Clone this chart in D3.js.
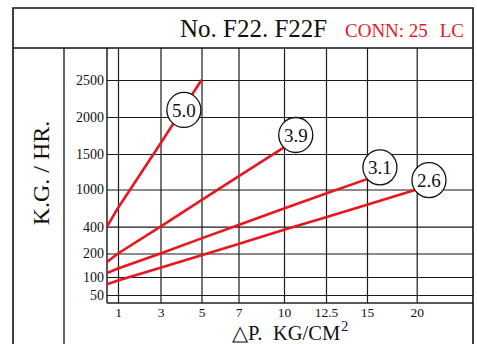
<!DOCTYPE html>
<html><head><meta charset="utf-8">
<script src="https://cdn.jsdelivr.net/npm/d3@7"></script>
<style>body{margin:0;background:#fff} svg{display:block}</style>
</head><body>
<svg id="c" width="477" height="344"></svg>
<script>
// ---- data ----
const title = "No. F22. F22F";
const connText = "CONN: 25";
const connSuffix = "LC";
const yLabel = "K.G. / HR.";
const xLabelA = "\u25B3P.";
const xLabelB = "KG/CM";
const xLabelSup = "2";
const xTicks = [1, 3, 5, 7, 10, 12.5, 15, 20];
const yTicks = [50, 100, 200, 400, 1000, 1500, 2000, 2500];
const seriesNames = ["5.0", "3.9", "3.1", "2.6"];
const dp50 = [0.5, 1, 3, 5];
const kg50 = [400, 703, 1642, 2500];
const dp39 = [0.5, 1, 3, 5, 7, 10];
const kg39 = [164, 200, 400, 828, 1184, 1590];
const dp31 = [0.5, 1, 3, 5, 7, 10, 12.5, 15];
const kg31 = [117, 136, 200, 313, 427, 695, 937, 1146];
const dp26 = [0.5, 1, 3, 5, 7, 10, 12.5, 15, 20];
const kg26 = [80, 90, 139, 193, 271, 377, 554, 755, 1000];
const labelDp = [4.14, 10.7, 16.3, 21.2];
const labelKg = [2095, 1757, 1312, 1132];

// ---- layout ----
const svg = d3.select("#c");
const serif = "'Liberation Serif','Times New Roman',serif";
const red = "#e8161e";
const frame = {l: 13, t: 8, r: 473, b: 344};
const titleBottom = 48, labelCol = 64, plotL = 107, plotB = 303;

const x = d3.scaleLinear()
  .domain([0.5, ...xTicks, 25.5])
  .range([plotL, 118, 160.5, 201.5, 238.5, 284, 326, 367, 416.7, frame.r]);
const y = d3.scaleLinear()
  .domain([28, ...yTicks, 2930])
  .range([plotB, 295, 277, 253.5, 226.7, 189.5, 154, 117, 80, titleBottom]);

// grid
const gx = svg.append("g").attr("transform", `translate(0,${plotB})`)
  .call(d3.axisBottom(x).tickValues(xTicks).tickSize(-(plotB - titleBottom)).tickFormat(d => d).tickPadding(4));
gx.select(".domain").remove();
gx.attr("font-family", serif);
gx.selectAll(".tick line").attr("stroke", "#1a1a1a").attr("stroke-width", 1.2);
gx.selectAll(".tick text").attr("font-family", serif).attr("font-size", 13.5).attr("fill", "#111").attr("dy", "0.72em");

const gy = svg.append("g").attr("transform", `translate(${plotL},0)`)
  .call(d3.axisLeft(y).tickValues(yTicks).tickSize(-(frame.r - plotL)).tickFormat(d => d).tickPadding(3));
gy.select(".domain").remove();
gy.attr("font-family", serif);
gy.selectAll(".tick line").attr("stroke", "#1a1a1a").attr("stroke-width", 1.2);
gy.selectAll(".tick text").attr("font-family", serif).attr("font-size", 14).attr("fill", "#111");

// axes lines
svg.append("line").attr("x1", plotL).attr("x2", plotL).attr("y1", titleBottom).attr("y2", plotB)
  .attr("stroke", "#222").attr("stroke-width", 1.5);
svg.append("line").attr("x1", plotL).attr("x2", frame.r).attr("y1", plotB).attr("y2", plotB)
  .attr("stroke", "#222").attr("stroke-width", 1.5);

// frame
svg.append("path")
  .attr("d", `M${frame.l},${frame.b}V${frame.t}H${frame.r}V${frame.b}`)
  .attr("fill", "none").attr("stroke", "#111").attr("stroke-width", 1.6);
svg.append("line").attr("x1", frame.l).attr("x2", frame.r).attr("y1", titleBottom).attr("y2", titleBottom)
  .attr("stroke", "#111").attr("stroke-width", 1.5);
svg.append("line").attr("x1", labelCol).attr("x2", labelCol).attr("y1", titleBottom).attr("y2", frame.b)
  .attr("stroke", "#111").attr("stroke-width", 1.3);

// title
svg.append("text").attr("x", 180).attr("y", 37).attr("font-family", serif).attr("font-size", 25)
  .attr("fill", "#111").text(title);
svg.append("text").attr("x", 345).attr("y", 37).attr("font-family", serif).attr("font-size", 19)
  .attr("fill", red).text(connText);
svg.append("text").attr("x", 464).attr("y", 37).attr("text-anchor", "end").attr("font-family", serif).attr("font-size", 19)
  .attr("fill", red).text(connSuffix);

// y label
svg.append("text").attr("transform", `translate(49,173) rotate(-90)`).attr("text-anchor", "middle")
  .attr("font-family", serif).attr("font-size", 24).attr("fill", "#111").text(yLabel);

// x label
svg.append("text").attr("x", 232).attr("y", 339.5).attr("font-family", serif).attr("font-size", 20.5)
  .attr("fill", "#111").text(xLabelA);
const xb = svg.append("text").attr("x", 273).attr("y", 339.5).attr("font-family", serif).attr("font-size", 20.5)
  .attr("fill", "#111").text(xLabelB);
const bw = xb.node().getComputedTextLength();
svg.append("text").attr("x", 273 + bw + 1).attr("y", 331).attr("font-family", serif).attr("font-size", 14)
  .attr("fill", "#111").text(xLabelSup);

// series
const series = [
  {name: seriesNames[0], dp: dp50, kg: kg50},
  {name: seriesNames[1], dp: dp39, kg: kg39},
  {name: seriesNames[2], dp: dp31, kg: kg31},
  {name: seriesNames[3], dp: dp26, kg: kg26}
];
const line = d3.line().x(d => x(d[0])).y(d => y(d[1]));
series.forEach((s) => {
  const pts = s.dp.map((v, j) => [v, s.kg[j]]);
  svg.append("path").attr("d", line(pts)).attr("fill", "none").attr("stroke", red)
    .attr("stroke-width", 2.6).attr("stroke-linejoin", "round");
});
series.forEach((s, i) => {
  const cx = x(labelDp[i]), cy = y(labelKg[i]);
  svg.append("ellipse").attr("cx", cx).attr("cy", cy).attr("rx", 17).attr("ry", 17.5)
    .attr("fill", "#fff").attr("stroke", "#111").attr("stroke-width", 1.3);
  svg.append("text").attr("x", cx).attr("y", cy).attr("dy", "0.35em").attr("text-anchor", "middle")
    .attr("font-family", serif).attr("font-size", 19).attr("fill", "#111").text(s.name);
});
</script>
</body></html>
